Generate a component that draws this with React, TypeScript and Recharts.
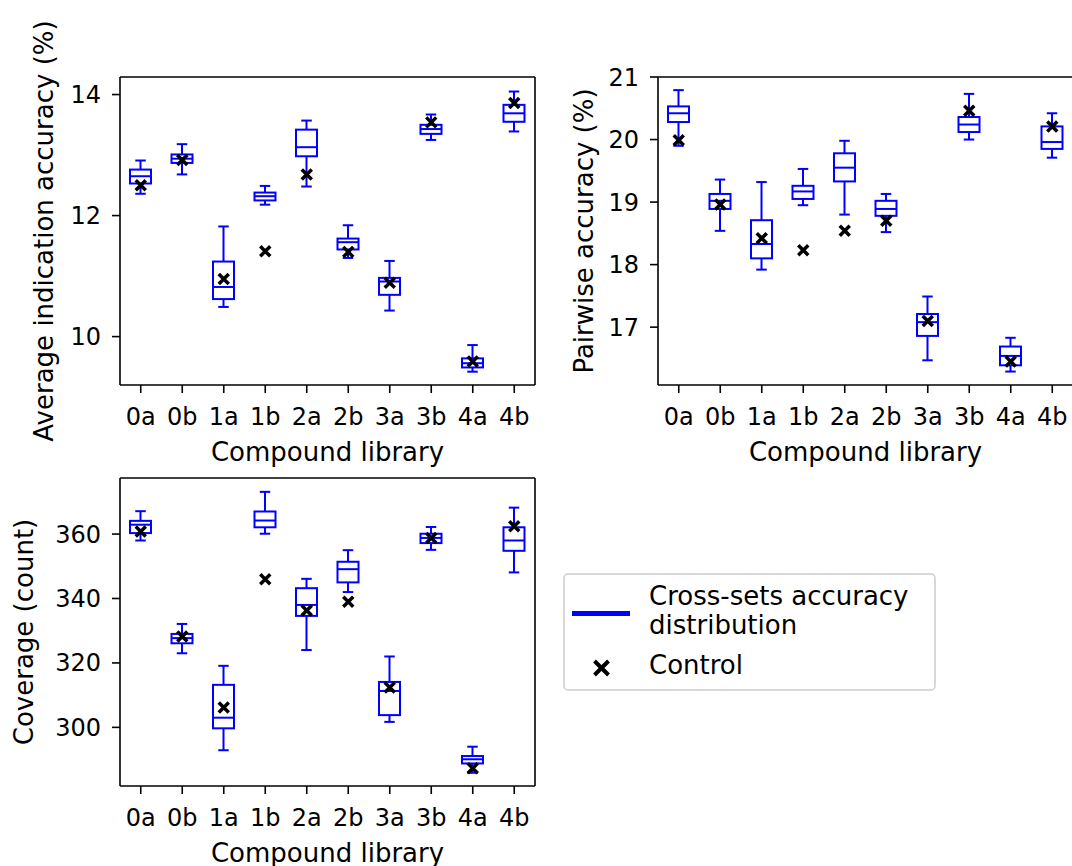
import React from "react";
import { ComposedChart, Bar, Scatter, XAxis, YAxis } from "recharts";

const libraries = ["0a", "0b", "1a", "1b", "2a", "2b", "3a", "3b", "4a", "4b"];

// Average indication accuracy (%)
const indicationLow = [12.36, 12.68, 10.49, 12.18, 12.48, 11.3, 10.43, 13.25, 9.42, 13.39];
const indicationQ1 = [12.53, 12.87, 10.62, 12.25, 12.98, 11.44, 10.69, 13.35, 9.49, 13.55];
const indicationMedian = [12.65, 12.94, 10.82, 12.32, 13.13, 11.56, 10.91, 13.43, 9.56, 13.69];
const indicationQ3 = [12.76, 13.01, 11.24, 12.38, 13.42, 11.62, 10.97, 13.5, 9.64, 13.83];
const indicationHigh = [12.91, 13.18, 11.82, 12.49, 13.57, 11.84, 11.25, 13.67, 9.86, 14.05];
const indicationControl = [12.5, 12.92, 10.95, 11.41, 12.68, 11.4, 10.89, 13.54, 9.59, 13.86];

// Pairwise accuracy (%)
const pairwiseLow = [19.9, 18.54, 17.92, 18.95, 18.8, 18.52, 16.47, 20.0, 16.29, 19.71];
const pairwiseQ1 = [20.28, 18.89, 18.1, 19.05, 19.33, 18.78, 16.86, 20.12, 16.39, 19.85];
const pairwiseMedian = [20.42, 19.02, 18.33, 19.17, 19.55, 18.89, 17.08, 20.24, 16.54, 19.96];
const pairwiseQ3 = [20.53, 19.13, 18.71, 19.26, 19.78, 19.02, 17.21, 20.36, 16.69, 20.21];
const pairwiseHigh = [20.79, 19.36, 19.32, 19.53, 19.98, 19.13, 17.49, 20.73, 16.83, 20.42];
const pairwiseControl = [19.99, 18.96, 18.42, 18.23, 18.54, 18.7, 17.1, 20.46, 16.45, 20.21];

// Coverage (count)
const coverageLow = [358.0, 323.0, 292.9, 360.1, 324.0, 342.0, 301.7, 355.1, 285.9, 348.1];
const coverageQ1 = [360.3, 326.1, 299.7, 362.1, 334.6, 345.0, 303.8, 357.2, 288.8, 354.8];
const coverageMedian = [362.9, 327.7, 303.0, 364.2, 338.0, 349.1, 311.3, 358.8, 290.1, 358.0];
const coverageQ3 = [364.1, 329.0, 313.2, 367.0, 343.2, 351.4, 314.1, 360.1, 291.1, 362.1];
const coverageHigh = [367.1, 332.1, 319.1, 373.1, 346.1, 355.0, 322.0, 362.2, 294.0, 368.2];
const coverageControl = [360.8, 328.2, 306.2, 346.0, 336.3, 339.0, 312.4, 358.8, 287.3, 362.4];

const indicationTicks = [10, 12, 14];
const pairwiseTicks = [17, 18, 19, 20, 21];
const coverageTicks = [300, 320, 340, 360];

const BLUE = "#0000ff";
const FONT = "'DejaVu Sans', sans-serif";

type Row = {
  lib: string;
  low: number;
  q1: number;
  median: number;
  q3: number;
  high: number;
  control: number;
};

function buildRows(
  low: number[],
  q1: number[],
  median: number[],
  q3: number[],
  high: number[],
  control: number[]
): Row[] {
  return libraries.map((lib, i) => ({
    lib,
    low: low[i],
    q1: q1[i],
    median: median[i],
    q3: q3[i],
    high: high[i],
    control: control[i],
  }));
}

const indicationRows = buildRows(indicationLow, indicationQ1, indicationMedian, indicationQ3, indicationHigh, indicationControl);
const pairwiseRows = buildRows(pairwiseLow, pairwiseQ1, pairwiseMedian, pairwiseQ3, pairwiseHigh, pairwiseControl);
const coverageRows = buildRows(coverageLow, coverageQ1, coverageMedian, coverageQ3, coverageHigh, coverageControl);

// the bar spans the whiskers; the rest of the box is placed on that same pixel range
const BoxShape = (props: any) => {
  const { x, y, width, height, payload } = props;
  if (!payload) return null;
  const top = Math.min(y, y + height);
  const bottom = Math.max(y, y + height);
  const span = payload.high - payload.low || 1;
  const py = (v: number) => top + ((bottom - top) * (payload.high - v)) / span;
  const cx = x + width / 2;
  const cap = width / 4;
  return (
    <g stroke={BLUE} strokeWidth={2} fill="none">
      <line x1={cx} x2={cx} y1={py(payload.high)} y2={py(payload.q3)} />
      <line x1={cx} x2={cx} y1={py(payload.q1)} y2={py(payload.low)} />
      <line x1={cx - cap} x2={cx + cap} y1={py(payload.high)} y2={py(payload.high)} />
      <line x1={cx - cap} x2={cx + cap} y1={py(payload.low)} y2={py(payload.low)} />
      <rect x={x} y={py(payload.q3)} width={width} height={py(payload.q1) - py(payload.q3)} />
      <line x1={x} x2={x + width} y1={py(payload.median)} y2={py(payload.median)} />
    </g>
  );
};

const XMark = (props: any) => {
  const { cx, cy, r = 5, w = 3.5 } = props;
  if (cx == null || cy == null) return null;
  return (
    <path
      d={`M${cx - r},${cy - r}L${cx + r},${cy + r}M${cx - r},${cy + r}L${cx + r},${cy - r}`}
      stroke="#000"
      strokeWidth={w}
      fill="none"
    />
  );
};

type PanelProps = {
  rows: Row[];
  domain: [number, number];
  ticks: number[];
  yLabel: string;
  yLabelX: number;
  yAxisWidth: number;
  width: number;
};

function Panel({ rows, domain, ticks, yLabel, yLabelX, yAxisWidth, width }: PanelProps) {
  const axisStyle = { stroke: "#000", strokeWidth: 1.6 };
  return (
    <ComposedChart
      width={width}
      height={470}
      data={rows}
      margin={{ top: 76, right: width - yAxisWidth - 416, bottom: 0, left: 0 }}
    >
      <XAxis
        dataKey="lib"
        height={85}
        tick={{ fontSize: 24, fill: "#000" }}
        tickSize={8}
        tickMargin={15}
        axisLine={axisStyle}
        tickLine={axisStyle}
        interval={0}
        label={(p: any) => {
          const vb = p.viewBox || {};
          const cx = (vb.x ?? yAxisWidth) + (vb.width ?? 415) / 2;
          const by = (vb.y ?? 385) + 76;
          return (
            <text x={cx} y={by} textAnchor="middle" fontSize={26} fill="#000" fontFamily={FONT}>
              Compound library
            </text>
          );
        }}
      />
      <XAxis xAxisId="top" dataKey="lib" orientation="top" height={1} tick={false} tickLine={false} axisLine={axisStyle} />
      <YAxis
        type="number"
        domain={domain}
        ticks={ticks}
        allowDataOverflow
        width={yAxisWidth}
        tick={{ fontSize: 24, fill: "#000" }}
        tickSize={8}
        tickMargin={11}
        axisLine={axisStyle}
        tickLine={axisStyle}
        label={(p: any) => {
          const vb = p.viewBox || {};
          const cy = (vb.y ?? 77) + (vb.height ?? 308) / 2;
          return (
            <text
              x={yLabelX}
              y={cy}
              transform={`rotate(-90 ${yLabelX} ${cy})`}
              textAnchor="middle"
              fontSize={26}
              fill="#000"
              fontFamily={FONT}
            >
              {yLabel}
            </text>
          );
        }}
      />
      <YAxis
        yAxisId="right"
        orientation="right"
        type="number"
        domain={domain}
        allowDataOverflow
        width={1}
        tick={false}
        tickLine={false}
        axisLine={axisStyle}
      />
      <Bar
        dataKey={(d: Row) => [d.low, d.high]}
        barSize={21}
        shape={BoxShape}
        isAnimationActive={false}
      />
      <Scatter dataKey="control" shape={XMark} isAnimationActive={false} />
    </ComposedChart>
  );
}

function LegendBox() {
  return (
    <svg width={380} height={125} style={{ position: "absolute", left: 560, top: 570 }}>
      <rect x={4} y={4} width={371} height={116} rx={4} fill="#fff" stroke="#cccccc" strokeWidth={1.5} />
      <line x1={12} x2={70} y1={43.5} y2={43.5} stroke={BLUE} strokeWidth={5} />
      <text x={89} y={35} fontSize={26} fill="#000" fontFamily={FONT}>
        Cross-sets accuracy
      </text>
      <text x={89} y={63.5} fontSize={26} fill="#000" fontFamily={FONT}>
        distribution
      </text>
      <XMark cx={41.5} cy={98} r={7} w={4} />
      <text x={89} y={103.5} fontSize={26} fill="#000" fontFamily={FONT}>
        Control
      </text>
    </svg>
  );
}

export default function App() {
  return (
    <div
      style={{
        position: "absolute",
        left: 0,
        top: 0,
        width: 1072,
        height: 866,
        overflow: "hidden",
        background: "#fff",
        fontFamily: FONT,
      }}
    >
      <div style={{ position: "absolute", left: 0, top: 0 }}>
        <Panel
          rows={indicationRows}
          domain={[9.2, 14.29]}
          ticks={indicationTicks}
          yLabel="Average indication accuracy (%)"
          yLabelX={53}
          yAxisWidth={120}
          width={545}
        />
      </div>
      <div style={{ position: "absolute", left: 540, top: 0 }}>
        <Panel
          rows={pairwiseRows}
          domain={[16.075, 21.0]}
          ticks={pairwiseTicks}
          yLabel="Pairwise accuracy (%)"
          yLabelX={53}
          yAxisWidth={118}
          width={545}
        />
      </div>
      <div style={{ position: "absolute", left: 0, top: 401 }}>
        <Panel
          rows={coverageRows}
          domain={[281.8, 377.4]}
          ticks={coverageTicks}
          yLabel="Coverage (count)"
          yLabelX={33}
          yAxisWidth={120}
          width={545}
        />
      </div>
      <LegendBox />
    </div>
  );
}
